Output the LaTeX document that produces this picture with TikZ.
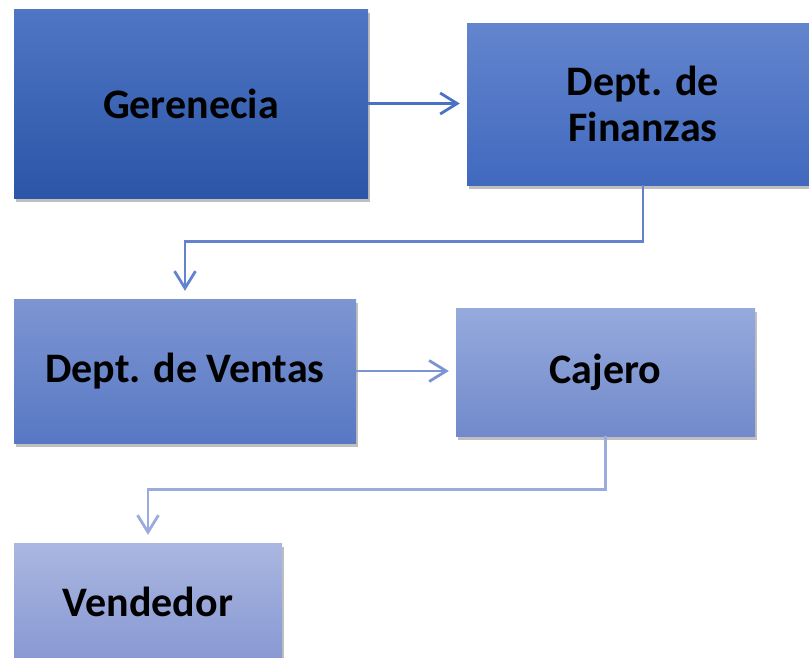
\documentclass[tikz,border=0pt]{standalone}
\usepackage{fontspec}
\setmainfont{Carlito}
\usetikzlibrary{arrows.meta,shadows}

\definecolor{gerTop}{HTML}{4F76C4}
\definecolor{gerBot}{HTML}{2C55A8}
\definecolor{finTop}{HTML}{6485CE}
\definecolor{finBot}{HTML}{4069BE}
\definecolor{venTop}{HTML}{7D96D2}
\definecolor{venBot}{HTML}{5878C4}
\definecolor{cajTop}{HTML}{96AADC}
\definecolor{cajBot}{HTML}{728ACC}
\definecolor{vendTop}{HTML}{AAB7E1}
\definecolor{vendBot}{HTML}{8898D2}
\definecolor{linkA}{HTML}{4A72C4}
\definecolor{linkB}{HTML}{6383CC}
\definecolor{linkC}{HTML}{7C94D2}
\definecolor{linkD}{HTML}{9BABDD}

\begin{document}
\begin{tikzpicture}[x=1pt,y=-1pt,
  box/.style={rectangle, inner sep=0pt, align=center,
    font=\fontsize{42}{46}\selectfont\bfseries,
    drop shadow={shadow xshift=2pt, shadow yshift=-4pt, opacity=0.25, fill=black}},
  link/.style={line width=2.8pt, -{Straight Barb[length=17pt,width=21pt,line width=2.8pt]}}]
  \useasboundingbox (0,0) rectangle (809,657);
  \clip (0,0) rectangle (809,657);

  \node[box, minimum width=354pt, minimum height=189pt,
    top color=gerTop, bottom color=gerBot] (ger) at (191,103.5) {Gerenecia};
  \node[box, minimum width=352pt, minimum height=162pt,
    top color=finTop, bottom color=finBot] (fin) at (643,104) {Dept. de\\Finanzas};
  \node[box, minimum width=342pt, minimum height=144pt,
    top color=venTop, bottom color=venBot] (ven) at (185,371) {Dept. de Ventas};
  \node[box, minimum width=299pt, minimum height=128pt,
    top color=cajTop, bottom color=cajBot] (caj) at (605.5,372) {Cajero};
  \node[box, minimum width=268pt, minimum height=118pt,
    top color=vendTop, bottom color=vendBot] (vend) at (148,602) {Vendedor};

  \draw[link, linkA, shorten >=7pt] (ger.east) -- (ger.east -| fin.west);
  \draw[link, linkB, shorten >=8pt] (fin.south) -- ++(0,56) -| (ven.north);
  \draw[link, linkC, shorten >=7pt] (ven.east) -- (ven.east -| caj.west);
  \draw[link, linkD, shorten >=8pt] (caj.south) -- ++(0,53) -| (vend.north);
\end{tikzpicture}
\end{document}
